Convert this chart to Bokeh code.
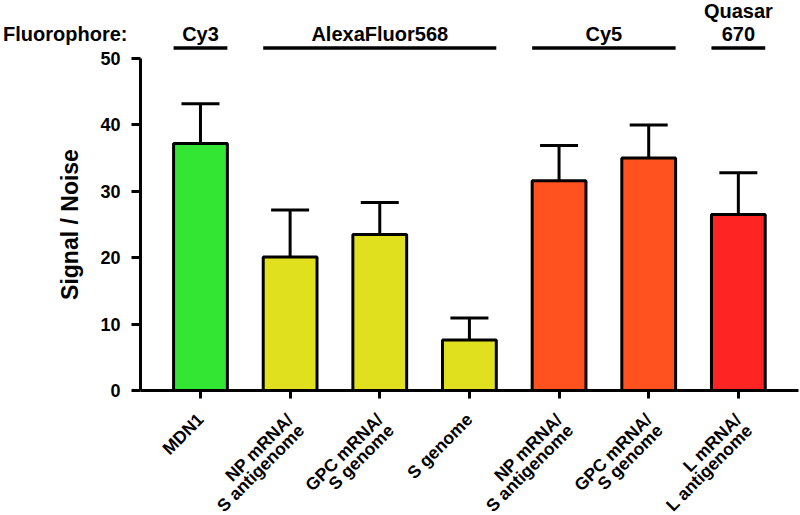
import math
from bokeh.plotting import figure
from bokeh.layouts import column
from bokeh.models import Range1d, FixedTicker, ColumnDataSource, Whisker, TeeHead
from bokeh.core.properties import value
from bokeh.embed import file_html
from bokeh.resources import INLINE

# ---- data ----
categories = ["MDN1", "NP mRNA/\nS antigenome", "GPC mRNA/\nS genome", "S genome",
              "NP mRNA/\nS antigenome", "GPC mRNA/\nS genome", "L mRNA/\nL antigenome"]
signal_noise = [37.2, 20.1, 23.5, 7.6, 31.6, 35.0, 26.5]
error_upper = [43.2, 27.2, 28.3, 10.9, 36.9, 40.0, 32.8]
bar_colors = ["#33e633", "#e0e01e", "#e0e01e", "#e0e01e", "#ff521e", "#ff521e", "#ff2424"]

group_title = "Fluorophore:"
group_names = ["Cy3", "AlexaFluor568", "Cy5", "Quasar\n670"]
group_first = [0, 1, 4, 6]
group_last = [0, 3, 5, 6]
y_ticks = [0, 10, 20, 30, 40, 50]

# ---- layout / style ----
FONT = "Liberation Sans"
BAR_W = 0.6
W = 800
FRAME_L, FRAME_R = 140, 798
X0, X1 = -0.669, 6.671
TOP_H, MAIN_H, BOT_H = 50, 360, 105

xs = list(range(len(categories)))

# ================= top strip: fluorophore groups =================
top = figure(width=W, height=TOP_H, x_range=Range1d(X0, X1), y_range=Range1d(TOP_H, 0),
             output_backend="svg", toolbar_location=None, x_axis_location=None,
             min_border_left=FRAME_L, min_border_right=W - FRAME_R,
             min_border_top=0, min_border_bottom=0)
top.outline_line_color = None
top.xgrid.visible = False
top.ygrid.visible = False
tax = top.yaxis[0]
tax.ticker = FixedTicker(ticks=[33])
tax.major_label_overrides = {33: group_title}
tax.major_label_text_font = FONT
tax.major_label_text_font_style = "bold"
tax.major_label_text_font_size = "20px"
tax.major_label_text_color = "black"
tax.major_label_standoff = 13
tax.axis_line_color = None
tax.major_tick_line_color = None
tax.minor_tick_line_color = None
tax.major_tick_out = 0
tax.major_tick_in = 0

gsrc = ColumnDataSource(dict(
    x0=[f - BAR_W / 2 for f in group_first],
    x1=[l + BAR_W / 2 for l in group_last],
    y=[47.5] * len(group_names),
))
top.segment(x0="x0", x1="x1", y0="y", y1="y", line_color="black", line_width=3.5, source=gsrc)

tx, ty, tt = [], [], []
for f, l, name in zip(group_first, group_last, group_names):
    lines = name.split("\n")
    for k, ln in enumerate(lines):
        tx.append((f + l) / 2)
        ty.append(33 - (len(lines) - 1 - k) * 23)
        tt.append(ln)
top.text(x="tx", y="ty", text="tt", source=ColumnDataSource(dict(tx=tx, ty=ty, tt=tt)),
         text_align="center", text_baseline="middle",
         text_font=value(FONT), text_font_style="bold", text_font_size="20px",
         text_color="black")

# ================= main chart =================
src = ColumnDataSource(dict(x=xs, value=signal_noise, upper=error_upper, color=bar_colors))

p = figure(width=W, height=MAIN_H, x_range=Range1d(X0, X1), y_range=Range1d(0, 50),
           output_backend="svg", toolbar_location=None,
           min_border_left=FRAME_L, min_border_right=W - FRAME_R, min_border_top=8,
           min_border_bottom=20)
p.outline_line_color = None
p.xgrid.visible = False
p.ygrid.visible = False

whisk = Whisker(source=src, base="x", lower="value", upper="upper",
                line_color="black", line_width=3,
                upper_head=TeeHead(size=38, line_color="black", line_width=3),
                lower_head=None)
p.add_layout(whisk)

p.vbar(x="x", top="value", bottom=0, width=BAR_W, fill_color="color",
       line_color="black", line_width=3, source=src)

yax = p.yaxis[0]
yax.ticker = FixedTicker(ticks=y_ticks)
yax.axis_label = "Signal / Noise"
yax.axis_label_text_font = FONT
yax.axis_label_text_font_style = "bold"
yax.axis_label_text_font_size = "23px"
yax.axis_label_text_color = "black"
yax.axis_label_standoff = 14
yax.major_label_text_font = FONT
yax.major_label_text_font_style = "bold"
yax.major_label_text_font_size = "18px"
yax.major_label_text_color = "black"
yax.major_label_standoff = 11
yax.axis_line_width = 3
yax.major_tick_line_width = 3
yax.major_tick_out = 9
yax.major_tick_in = 0
yax.minor_tick_line_color = None

xax = p.xaxis[0]
xax.ticker = FixedTicker(ticks=xs)
xax.major_label_overrides = {i: "" for i in xs}
xax.major_label_text_font_size = "0px"
xax.major_label_standoff = 0
xax.axis_line_width = 3
xax.major_tick_line_width = 3
xax.major_tick_out = 8
xax.major_tick_in = 0
xax.minor_tick_line_color = None

# ================= bottom strip: category labels =================
Y_BOT0 = TOP_H + MAIN_H
bot = figure(width=W, height=BOT_H, x_range=Range1d(X0, X1),
             y_range=Range1d(Y_BOT0 + BOT_H, Y_BOT0),
             output_backend="svg", toolbar_location=None,
             x_axis_location=None, y_axis_location=None,
             min_border_left=FRAME_L, min_border_right=W - FRAME_R,
             min_border_top=0, min_border_bottom=0)
bot.outline_line_color = None
bot.xgrid.visible = False
bot.ygrid.visible = False

LINE_OFF = 11
lx, ly, lt, lox, loy = [], [], [], [], []
for i, c in zip(xs, categories):
    for k, ln in enumerate(c.split("\n")):
        lx.append(i)
        ly.append(416)
        lt.append(ln)
        lox.append(k * LINE_OFF)
        loy.append(k * LINE_OFF)
bot.text(x="lx", y="ly", text="lt", x_offset="ox", y_offset="oy",
         source=ColumnDataSource(dict(lx=lx, ly=ly, lt=lt, ox=lox, oy=loy)),
         angle=math.pi / 4, text_align="right", text_baseline="middle",
         text_font=value(FONT), text_font_style="bold", text_font_size="17.5px",
         text_color="black")

layout = column(top, p, bot, spacing=0)
open("out.html", "w").write(file_html(layout, INLINE))
